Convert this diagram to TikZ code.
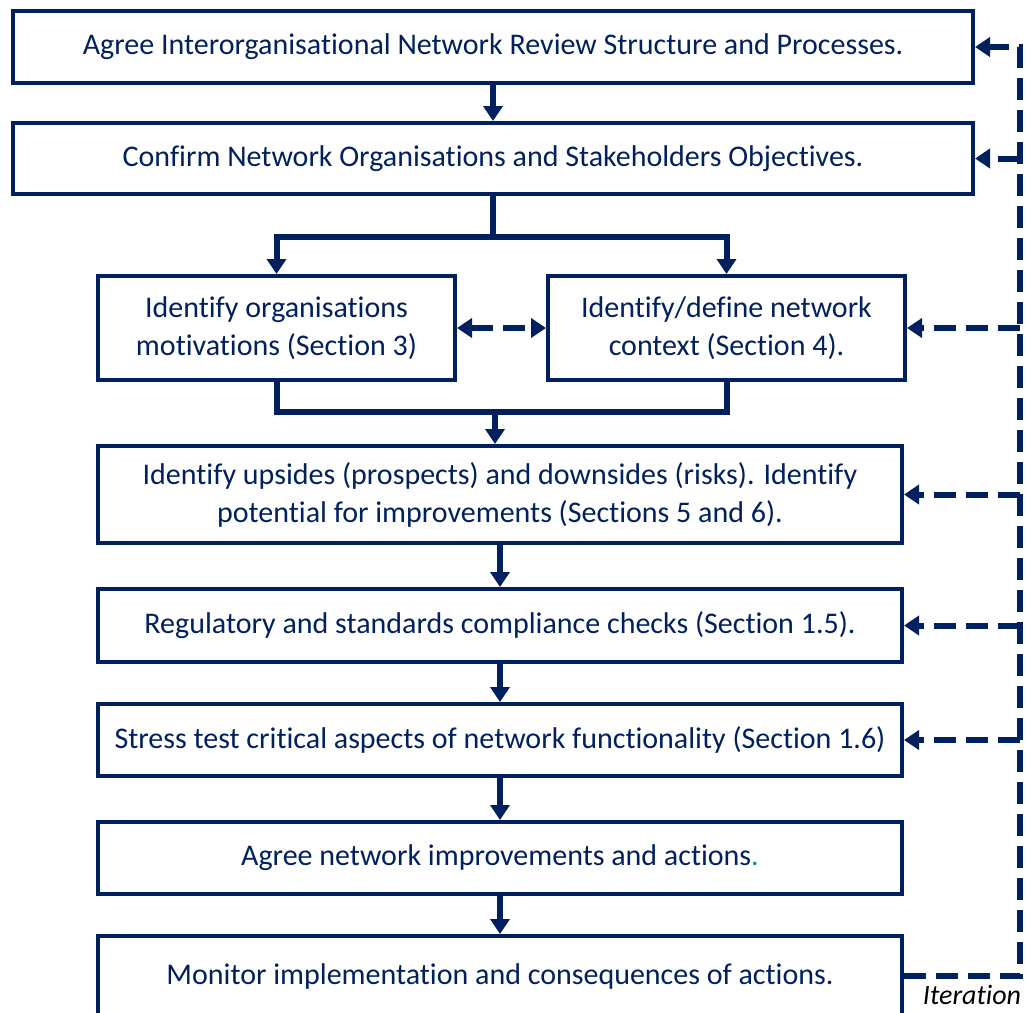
\documentclass[tikz,border=0pt]{standalone}
\usepackage{fontspec}
\setmainfont[Ligatures=NoCommon]{Carlito}
\usetikzlibrary{arrows.meta}
\definecolor{navy}{RGB}{0,32,96}
\definecolor{dotteal}{RGB}{0,150,150}
\tikzset{
	box/.style={draw=navy, line width=2pt, text=navy, align=center, inner sep=0pt, font=\fontsize{15}{19}\selectfont},
	flow/.style={draw=navy, line width=3pt},
	flowtip/.style={-{Triangle[width=9.5pt,length=7.5pt]}},
	fbline/.style={draw=navy, line width=3pt, dash pattern=on 11pt off 5pt},
}

\begin{document}
\begin{tikzpicture}[x=0.5pt,y=-0.5pt]
			\useasboundingbox (0,0) rectangle (1026,1012);
			\node[box, minimum width=480pt, minimum height=36pt] (A) at (493,47) {Agree Interorganisational Network Review Structure and Processes.};
			\node[box, minimum width=480pt, minimum height=35.5pt] (B) at (493,158.5) {Confirm Network Organisations and Stakeholders Objectives.};
			\node[box, minimum width=178.5pt, minimum height=52pt] (C) at (276.5,328) {Identify organisations\\motivations (Section 3)};
			\node[box, minimum width=178.5pt, minimum height=52pt] (D) at (726.5,328) {Identify/define network\\context (Section 4).};
			\node[box, minimum width=402pt, minimum height=48.5pt] (E) at (500,494.5) {Identify upsides (prospects) and downsides (risks). Identify\\potential for improvements (Sections 5 and 6).};
			\node[box, minimum width=402pt, minimum height=36.5pt] (F) at (500,625.5) {Regulatory and standards compliance checks (Section 1.5).};
			\node[box, minimum width=402pt, minimum height=36pt] (G) at (500,740) {Stress test critical aspects of network functionality (Section 1.6)};
			\node[box, minimum width=402pt, minimum height=36pt] (H) at (500,858) {Agree network improvements and actions{\color{dotteal}.}};
			\node[box, minimum width=402pt, minimum height=40pt] (I) at (500,976) {Monitor implementation and consequences of actions.};
			\node[font=\fontsize{14}{18}\selectfont\itshape] (iter) at (972,995) {Iteration};
			\coordinate (split) at (493,237);
			\coordinate (merge) at (495,412);
			\coordinate (rail) at (1020,500);
			\draw[flow, flowtip] (A) -- (B);
			\draw[flow] (B) -- (split);
			\draw[flow, flowtip] (split) -| (C);
			\draw[flow, flowtip] (split) -| (D);
			\draw[flow] (C) |- (merge);
			\draw[flow] (D) |- (merge);
			\draw[flow, flowtip] (merge) -- (merge |- E.north);
			\draw[flow, flowtip] (E) -- (F);
			\draw[flow, flowtip] (F) -- (G);
			\draw[flow, flowtip] (G) -- (H);
			\draw[flow, flowtip] (H) -- (I);
			\draw[fbline, {Triangle[width=9.5pt,length=7.5pt]}-{Triangle[width=9.5pt,length=7.5pt]}] (C) -- (D);
			\draw[fbline, flowtip] (I.east) -| (rail |- A.east) -- (A.east);
			\foreach \n in {B,D,E,F,G}
				\draw[fbline, flowtip] (rail |- \n.east) -- (\n.east);
		\end{tikzpicture}
\end{document}
